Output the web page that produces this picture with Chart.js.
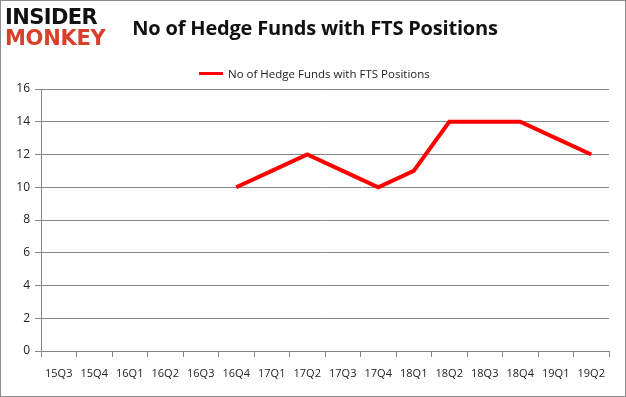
<!DOCTYPE html>
<html>
<head>
<meta charset="utf-8">
<script src="https://cdn.jsdelivr.net/npm/chart.js@4/dist/chart.umd.min.js"></script>
<style>
  html, body { margin: 0; padding: 0; background: #fff; }
  #wrap { position: relative; width: 626px; height: 397px; overflow: hidden; }
  #frame { position: absolute; left: 0; top: 0; width: 624px; height: 395px; border: 1px solid #8c8c8c; pointer-events: none; }
  #logo { position: absolute; left: 5px; top: 7px; font-family: "DejaVu Sans", sans-serif; font-weight: bold; line-height: 21px; }
  #logo .a { color: #111; font-size: 21px; letter-spacing: -0.6px; }
  #logo .b { color: #d9402b; font-size: 21px; letter-spacing: -0.3px; }
  #title { position: absolute; left: 0; width: 626px; top: 14px; padding-left: 2px; text-align: center; font-family: "Open Sans", sans-serif; font-size: 20px; font-weight: bold; color: #111; letter-spacing: -0.2px; }
  #legend { position: absolute; left: 199px; top: 66px; font-family: "Open Sans", sans-serif; font-size: 11.5px; color: #222; display: flex; align-items: center; }
  #legend span.ln { display: inline-block; width: 24px; height: 3px; background: #ff0000; margin-right: 5px; }
  canvas { position: absolute; left: 0; top: 0; }
</style>
</head>
<body>
<div id="wrap">
  <canvas id="chart" width="626" height="397"></canvas>
  <div id="logo"><div class="a">INSIDER</div><div class="b">MONKEY</div></div>
  <div id="title">No of Hedge Funds with FTS Positions</div>
  <div id="legend"><span class="ln"></span>No of Hedge Funds with FTS Positions</div>
  <div id="frame"></div>
</div>
<script>
const quarters = ['15Q3', '15Q4', '16Q1', '16Q2', '16Q3', '16Q4', '17Q1', '17Q2', '17Q3', '17Q4', '18Q1', '18Q2', '18Q3', '18Q4', '19Q1', '19Q2'];
const hedgeFunds = [null, null, null, null, null, 10, 11, 12, 11, 10, 11, 14, 14, 14, 13, 12];
const yTicks = [0, 2, 4, 6, 8, 10, 12, 14, 16];

const gridColor = '#868686';
const tickFont = { family: 'Open Sans', size: 11 };

new Chart(document.getElementById('chart'), {
  type: 'line',
  data: {
    labels: quarters,
    datasets: [{
      label: 'No of Hedge Funds with FTS Positions',
      data: hedgeFunds,
      borderColor: '#ff0000',
      borderWidth: 4,
      pointRadius: 0,
      tension: 0,
      spanGaps: false
    }]
  },
  options: {
    responsive: false,
    animation: false,
    layout: { padding: { left: 0, right: 17, top: 89, bottom: 0 } },
    plugins: { legend: { display: false }, title: { display: false }, tooltip: { enabled: false } },
    scales: {
      x: {
        offset: true,
        grid: { display: true, drawOnChartArea: false, offset: true, color: gridColor, tickLength: 6 },
        border: { color: gridColor },
        ticks: { color: '#222', font: tickFont, padding: 10, maxRotation: 0, autoSkip: false },
        afterFit: scale => { scale.height = 46; }
      },
      y: {
        min: 0,
        max: 16,
        afterBuildTicks: scale => { scale.ticks = yTicks.map(v => ({ value: v })); },
        grid: { color: gridColor, tickLength: 6 },
        border: { color: gridColor },
        ticks: { color: '#222', font: { family: 'Open Sans', size: 12 }, padding: 5 },
        afterFit: scale => { scale.width = 41; }
      }
    }
  }
});
</script>
</body>
</html>
